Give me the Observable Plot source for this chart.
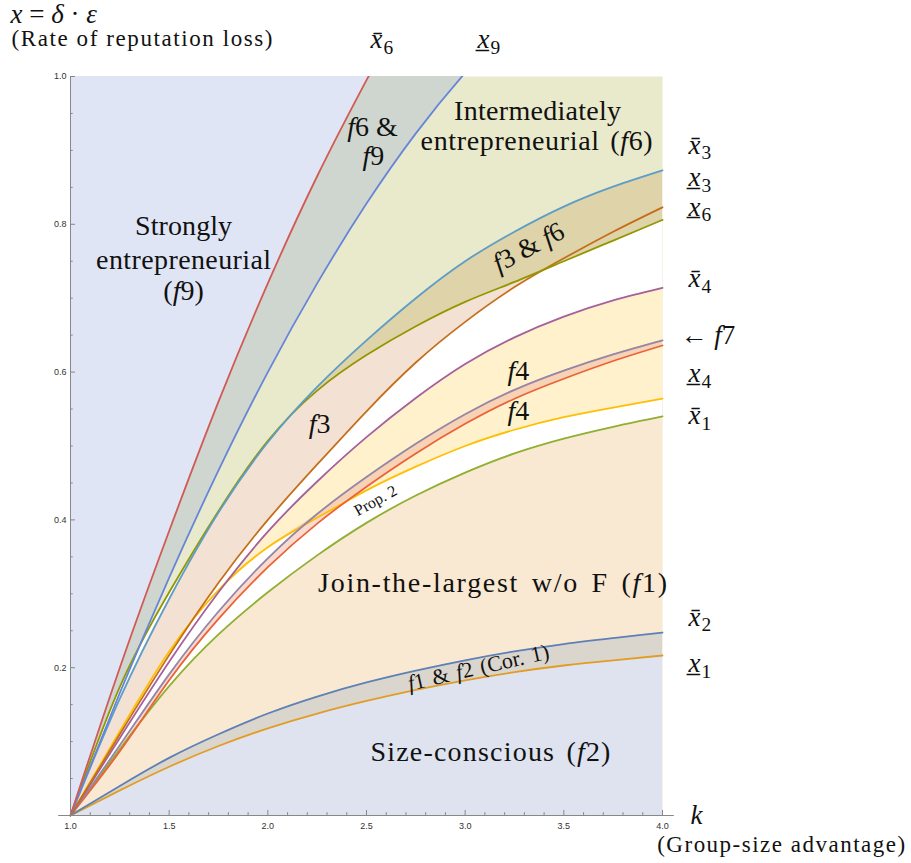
<!DOCTYPE html>
<html><head><meta charset="utf-8">
<script src="https://cdn.jsdelivr.net/npm/d3@7"></script>
<script src="https://cdn.jsdelivr.net/npm/@observablehq/plot@0.6"></script>
<style>body{margin:0;background:#fff}</style>
</head><body><div id="chart"></div>
<script>
// ---- data ----
const ks = [1, 1.25, 1.5, 1.75, 2, 2.25, 2.5, 2.75, 3, 3.25, 3.5, 3.75, 4];
const redK  = [1, 1.25, 1.5, 1.75, 2, 2.25, 2.5, 2.75];
const redY  = [0, 0.2, 0.385, 0.56, 0.72, 0.865, 0.995, 1.12];
const blue9K = [1, 1.25, 1.5, 1.75, 2, 2.25, 2.5, 2.75, 3.0, 3.25];
const blue9Y = [0, 0.166, 0.322, 0.467, 0.600, 0.720, 0.828, 0.923, 1.005, 1.077];
const teal       = [0, 0.158, 0.293, 0.41, 0.505, 0.58, 0.643, 0.70, 0.75, 0.79, 0.824, 0.851, 0.873];
const olive      = [0, 0.174, 0.302, 0.412, 0.507, 0.575, 0.623, 0.662, 0.695, 0.722, 0.75, 0.778, 0.806];
const brown      = [0, 0.11, 0.217, 0.315, 0.40, 0.475, 0.547, 0.613, 0.668, 0.715, 0.754, 0.79, 0.823];
const purple     = [0, 0.105, 0.208, 0.302, 0.384, 0.452, 0.512, 0.565, 0.611, 0.647, 0.675, 0.697, 0.714];
const grayPurple = [0, 0.095, 0.191, 0.276, 0.348, 0.408, 0.458, 0.503, 0.543, 0.576, 0.602, 0.624, 0.643];
const orangeRed  = [0, 0.087, 0.183, 0.266, 0.336, 0.395, 0.445, 0.49, 0.53, 0.564, 0.591, 0.615, 0.636];
const yellow     = [0, 0.114, 0.222, 0.305, 0.363, 0.403, 0.44, 0.472, 0.50, 0.522, 0.539, 0.552, 0.564];
const green      = [0, 0.09, 0.175, 0.245, 0.302, 0.352, 0.396, 0.433, 0.464, 0.49, 0.51, 0.526, 0.54];
const blue2      = [0, 0.04, 0.078, 0.11, 0.138, 0.161, 0.18, 0.196, 0.21, 0.222, 0.232, 0.24, 0.2476];
const gold       = [0, 0.034, 0.066, 0.094, 0.118, 0.138, 0.155, 0.17, 0.183, 0.194, 0.203, 0.21, 0.2165];

const xMajor = [1, 1.5, 2, 2.5, 3, 3.5, 4];
const yMajor = [0.2, 0.4, 0.6, 0.8, 1.0];

const regionLabels = [
  {k:1.573, y:0.785, t:"Strongly", w:97},
  {k:1.573, y:0.740, t:"entrepreneurial", w:175},
  {k:1.573, y:0.697, t:"($f9$)"},
  {k:2.530, y:0.920, t:"$f6$ &"},
  {k:2.535, y:0.880, t:"$f9$"},
  {k:3.367, y:0.9405, t:"Intermediately", w:167},
  {k:3.362, y:0.900, t:"entrepreneurial ($f6$)", w:232, ws:3},
  {k:2.262, y:0.518, t:"$f3$"},
  {k:3.270, y:0.589, t:"$f4$"},
  {k:3.270, y:0.535, t:"$f4$"},
  {k:3.139, y:0.302, t:"Join-the-largest w/o F ($f1$)", w:349, ws:4},
  {k:3.128, y:0.074, t:"Size-conscious ($f2$)", w:240, ws:3}
];
const rotLabels = [
  {k:3.321, y:0.769, t:"$f3$ & $f6$", r:-28, s:27},
  {k:3.068, y:0.200, t:"$f1$ & $f2$ (Cor. 1)", r:-13, s:22, ws:2},
  {k:2.546, y:0.426, t:"Prop. 2", r:-29, s:16}
];
const outerLabels = [
  {k:0.696, y:1.073, t:"$x = δ · ε$", s:27},
  {k:0.701, y:1.0406, t:"(Rate of reputation loss)", s:23, w:261},
  {k:2.520, y:1.038, t:"$Ox_6$", s:27},
  {k:3.063, y:1.038, t:"$Ux_9$", s:27},
  {k:4.132, y:0.8958, t:"$Ox_3$", s:27},
  {k:4.132, y:0.8512, t:"$Ux_3$", s:27},
  {k:4.132, y:0.8119, t:"$Ux_6$", s:27},
  {k:4.132, y:0.7149, t:"$Ox_4$", s:27},
  {k:4.091, y:0.6387, t:"← $f7$", s:27},
  {k:4.132, y:0.5863, t:"$Ux_4$", s:27},
  {k:4.132, y:0.530, t:"$Ox_1$", s:27},
  {k:4.132, y:0.2571, t:"$Ox_2$", s:27},
  {k:4.132, y:0.1939, t:"$Ux_1$", s:27},
  {k:4.142, y:-0.0112, t:"$k$", s:27},
  {k:3.973, y:-0.0497, t:"(Group-size advantage)", s:23, w:248}
];

// ---- build tables ----
const rows = ks.map((k, i) => ({k, teal: teal[i], olive: olive[i], brown: brown[i], purple: purple[i],
  grayPurple: grayPurple[i], orangeRed: orangeRed[i], yellow: yellow[i], green: green[i], blue2: blue2[i], gold: gold[i]}));
const redRows = redK.map((k, i) => ({k, y: redY[i]}));
const blue9Rows = blue9K.map((k, i) => ({k, y: blue9Y[i]}));
const curve = "natural";
const C = {f9:"#e0e5f6", f69:"#cfd6cf", f6:"#e9eacc", f3:"#f3e2d3", f36:"#dfd3a9", f4:"#fef1cc",
  f7:"#fadbd2", f47:"#f8d2b5", f1:"#f9e8d2", f12:"#dbd6cd", f2:"#dee3ef"};
const lines = [
  ["gold", "#E19C24"], ["blue2", "#5E81B5"], ["green", "#8FB032"], ["yellow", "#FFBF00"],
  ["orangeRed", "#EB6235"], ["grayPurple", "#9686a6"], ["purple", "#A5609D"], ["brown", "#C56E1A"],
  ["olive", "#929600"], ["teal", "#5D9EC7"]
];
const sw = 1.8;
const xMinor = d3.range(11, 40).filter(d => d % 5 !== 0).map(d => d / 10);
const yMinor = d3.range(1, 20).filter(d => d % 4 !== 0).map(d => d / 20);
const serif = "Liberation Serif";

const plot = Plot.plot({
  width: 911, height: 863,
  marginLeft: 70, marginRight: 249, marginTop: 76, marginBottom: 48,
  x: {domain: [1, 4], axis: null},
  y: {domain: [0, 1], axis: null},
  style: {background: "white", overflow: "visible"},
  marks: [
    Plot.frame({fill: C.f6, stroke: null}),
    Plot.areaY(blue9Rows, {x: "k", y1: "y", y2: 1, fill: C.f69, curve, clip: true}),
    Plot.areaY(redRows, {x: "k", y1: "y", y2: 1, fill: C.f9, curve, clip: true}),
    Plot.areaY(rows, {x: "k", y1: 0, y2: "olive", fill: "white", curve}),
    Plot.areaY(rows, {x: "k", y1: "brown", y2: "teal", fill: C.f3, curve}),
    Plot.areaY(rows, {x: "k", y1: "olive", y2: d => Math.max(d.olive, d.teal), fill: C.f36, curve}),
    Plot.areaY(rows, {x: "k", y1: "gold", y2: "green", fill: C.f1, curve}),
    Plot.areaY(rows, {x: "k", y1: "yellow", y2: d => Math.max(d.yellow, d.purple), fill: C.f4, curve}),
    Plot.areaY(rows, {x: "k", y1: "orangeRed", y2: "grayPurple", fill: C.f7, curve}),
    Plot.areaY(rows, {x: "k", y1: d => Math.max(d.orangeRed, d.yellow),
      y2: d => Math.max(Math.max(d.orangeRed, d.yellow), Math.min(d.grayPurple, d.purple)), fill: C.f47, curve}),
    Plot.areaY(rows, {x: "k", y1: 0, y2: "blue2", fill: C.f2, curve}),
    Plot.areaY(rows, {x: "k", y1: "gold", y2: "blue2", fill: C.f12, curve}),
    ...lines.map(([key, color]) => Plot.line(rows, {x: "k", y: key, stroke: color, strokeWidth: sw, curve})),
    Plot.line(blue9Rows, {x: "k", y: "y", stroke: "#6685D9", strokeWidth: sw, curve, clip: true}),
    Plot.line(redRows, {x: "k", y: "y", stroke: "#d25a55", strokeWidth: sw, curve, clip: true}),
    // axes
    Plot.ruleY([0], {x1: 0.94, x2: 4.06, stroke: "#888"}),
    Plot.ruleX([1], {y1: 0, y2: 1, stroke: "#888"}),
    Plot.ruleX(xMajor, {x: d => d, y1: 0, y2: 0.0068, stroke: "#888"}),
    Plot.ruleX(xMinor, {x: d => d, y1: 0, y2: 0.0038, stroke: "#888"}),
    Plot.ruleY(yMajor, {y: d => d, x1: 1, x2: 1.0253, stroke: "#888"}),
    Plot.ruleY(yMinor, {y: d => d, x1: 1, x2: 1.0137, stroke: "#888"}),
    Plot.axisX({ticks: xMajor, tickFormat: d => d.toFixed(1), tickSize: 0, tickPadding: 7, fontSize: 9,
      fontFamily: "Liberation Sans", fill: "#333", label: null}),
    Plot.axisY({ticks: yMajor, tickFormat: d => d.toFixed(1), tickSize: 0, tickPadding: 4, fontSize: 9,
      fontFamily: "Liberation Sans", fill: "#333", label: null}),
    // labels
    Plot.text(regionLabels, {x: "k", y: "y", text: "t", fontFamily: serif, fontSize: 28,
      lineAnchor: "bottom", textAnchor: "middle", fill: "#111"}),
    ...rotLabels.map(d => Plot.text([d], {x: "k", y: "y", text: "t", rotate: d.r, fontFamily: serif,
      fontSize: d.s, lineAnchor: "middle", textAnchor: "middle", fill: "#111"})),
    ...outerLabels.map(d => Plot.text([d], {x: "k", y: "y", text: "t", fontFamily: serif,
      fontSize: d.s, lineAnchor: "bottom", textAnchor: "start", fill: "#111"}))
  ]
});

// ---- simple math formatting + widths ----
const allLabels = [...regionLabels, ...rotLabels, ...outerLabels];
const widths = new Map(allLabels.filter(d => d.w).map(d => [d.t, d.w]));
const wspace = new Map(allLabels.filter(d => d.ws).map(d => [d.t, d.ws]));
const NS = "http://www.w3.org/2000/svg";
function addSpan(t, str, o) {
  const ts = document.createElementNS(NS, "tspan");
  ts.textContent = str;
  if (o.italic) ts.setAttribute("font-style", "italic");
  if (o.sub) { ts.setAttribute("font-size", "72%"); ts.setAttribute("dy", "0.3em"); ts.setAttribute("dx", "1"); }
  t.appendChild(ts);
}
plot.querySelectorAll("text").forEach(t => {
  const s = t.textContent;
  if (wspace.has(s)) t.setAttribute("word-spacing", wspace.get(s));
  if (widths.has(s)) { t.setAttribute("textLength", widths.get(s)); t.setAttribute("lengthAdjust", "spacing"); }
  if (!s.includes("$")) return;
  t.textContent = "";
  s.split("$").forEach((p, idx) => {
    if (!p) return;
    if (idx % 2 === 0) { addSpan(t, p, {}); return; }
    let deco = "", sub = false;
    for (const ch of p) {
      if (ch === "O") { deco = "\u0304"; continue; }
      if (ch === "U") { deco = "\u0332"; continue; }
      if (ch === "_") { sub = true; continue; }
      const italic = /[a-zδε]/.test(ch);
      addSpan(t, ch + deco, {italic, sub});
      deco = ""; sub = false;
    }
  });
});
document.getElementById("chart").appendChild(plot);
</script>
</body></html>
